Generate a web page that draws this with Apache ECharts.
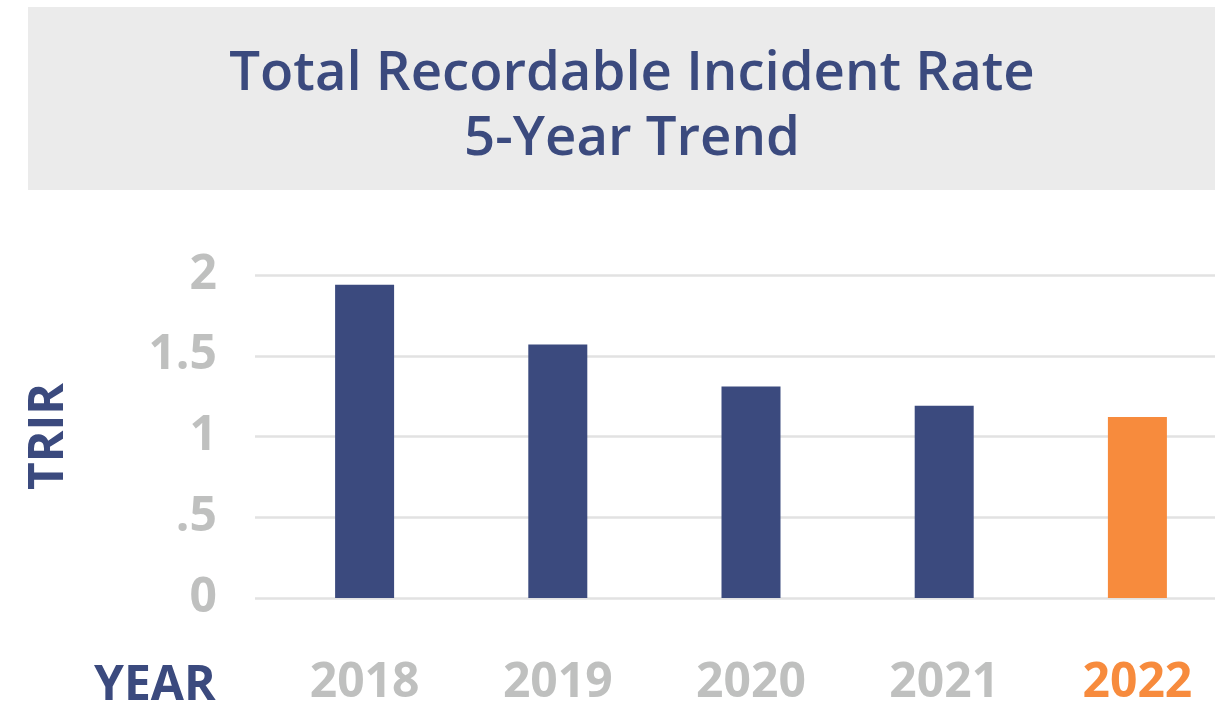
<!DOCTYPE html>
<html><head><meta charset="utf-8">
<script src="https://cdn.jsdelivr.net/npm/echarts@6/dist/echarts.min.js"></script>
<style>html,body{margin:0;padding:0;background:#fff}#c{width:1215px;height:707px}</style>
</head><body><div id="c"></div>
<script>
const years = ['2018', '2019', '2020', '2021', '2022'];
const trir = [1.94, 1.57, 1.31, 1.19, 1.12];
const yTicks = [0, 0.5, 1, 1.5, 2];
const yTickLabels = ['0', '.5', '1', '1.5', '2'];
const titleLines = ['Total Recordable Incident Rate', '5-Year Trend'];

const NAVY = '#3b4a7e', ORANGE = '#f78b3d', GRAY = '#bfc0bf';
const FONT = '"Open Sans", sans-serif';
const chart = echarts.init(document.getElementById('c'));
const last = years.length - 1;

chart.setOption({
  animation: false,
  backgroundColor: '#fff',
  graphic: [
    { type: 'rect', left: 28, top: 7, shape: { width: 1215, height: 183 }, style: { fill: '#ebebeb' }, z: -10 },
    { type: 'text', left: 94, top: 662, style: { text: 'YEAR', font: 'bold 48px ' + FONT, fill: NAVY } }
  ],
  title: {
    text: titleLines.join('\n'),
    left: 627, textAlign: 'center', top: 37,
    textStyle: { fontFamily: FONT, fontWeight: 600, fontSize: 54.5, lineHeight: 65, color: NAVY }
  },
  grid: [
    { left: 255, right: 0, top: 275, bottom: 109, outerBoundsMode: 'none', containLabel: false },
    { left: 268, width: 966, top: 275, bottom: 109, outerBoundsMode: 'none', containLabel: false }
  ],
  xAxis: [
    { gridIndex: 0, type: 'category', data: years, show: false },
    { gridIndex: 1, type: 'category', data: years,
      axisLine: { show: false }, axisTick: { show: false },
      axisLabel: { margin: 61, fontFamily: FONT, fontWeight: 'bold', fontSize: 48,
        color: (v, i) => (i === last || v === years[last]) ? ORANGE : GRAY } }
  ],
  yAxis: [
    { gridIndex: 0, type: 'value', min: 0, max: 2, interval: 0.5,
      name: 'TRIR', nameLocation: 'middle', nameRotate: 90, nameGap: 182,
      nameTextStyle: { fontFamily: FONT, fontWeight: 'bold', fontSize: 48, color: NAVY },
      axisLine: { show: false }, axisTick: { show: false },
      axisLabel: { margin: 38, fontFamily: FONT, fontWeight: 'bold', fontSize: 48, color: GRAY,
        formatter: v => yTickLabels[yTicks.indexOf(v)] },
      splitLine: { lineStyle: { color: '#e2e2e2', width: 2.5 } } },
    { gridIndex: 1, type: 'value', min: 0, max: 2, interval: 0.5, show: false, splitLine: { show: false } }
  ],
  series: [{
    type: 'bar', xAxisIndex: 1, yAxisIndex: 1, barWidth: 59,
    data: trir.map((v, i) => ({ value: v, itemStyle: { color: i === last ? ORANGE : NAVY } }))
  }]
});
</script></body></html>
